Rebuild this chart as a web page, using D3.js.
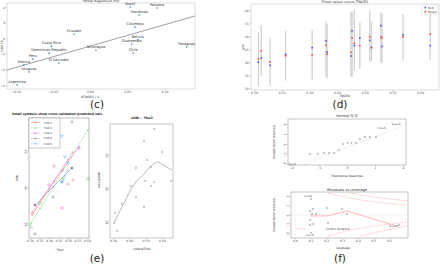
<!DOCTYPE html>
<html>
<head>
<meta charset="utf-8">
<script src="https://cdn.jsdelivr.net/npm/d3@7"></script>
<style>
body{margin:0;background:#fff}
svg{display:block}
text{font-family:"DejaVu Sans",sans-serif}
</style>
</head>
<body>
<svg id="fig" width="440" height="265"></svg>
<script>
// (c) partial regression
const countries = ['Argentina','Uruguay','Mexico','Peru','El Salvador','Dominican Republic','Costa Rica','Ecuador','Nicaragua','Brazil','Panama','Honduras','Colombia','Bolivia','Guatemala','Chile','Paraguay']
const atindexResid = [-0.098,-0.082,-0.089,-0.077,-0.042,-0.055,-0.052,-0.0215,0.008,0.054,0.090,0.066,0.0605,0.064,0.056,0.058,0.130]
const giniResid = [-6.0,-4.33,-3.44,-2.67,-3.18,-1.95,-1.05,0.54,-1.51,4.0,3.87,2.97,1.44,-0.2,-0.75,-1.9,-1.13]
const prFit = {intercept: -1.02, slope: 27.4}
const cXTicks = [-0.10,-0.05,0,0.05,0.10]
const cYTicks = [-6,-4,-2,0,2,4]

// (d) fitted values vs TINDEX
const tindex = [0.308,0.313,0.329,0.357,0.405,0.430,0.432,0.475,0.477,0.481,0.491,0.509,0.512,0.529,0.531,0.569,0.618]
const olsFit = [39.9,41.5,38.7,43.0,45.5,48.1,43.8,42.3,52.0,46.3,49.2,48.3,45.6,54.0,46.0,50.5,46.3]
const mixedFit = [41.2,44.3,40.0,42.4,42.7,46.5,43.0,43.7,49.3,47.2,46.3,49.7,45.5,49.7,49.2,49.6,50.8]
const piLow = [30.8,34.6,30.8,32.8,33.3,34.1,33.8,34.4,34.2,36.5,37.3,40.1,40.4,39.5,39.8,40.5,40.8]
const piHigh = [51.3,54.2,49.1,51.9,52.3,55.5,54.6,59.4,59.2,60.0,55.4,59.6,55.4,59.0,58.8,58.5,58.7]
const dXTicks = [0.30,0.35,0.40,0.45,0.50,0.55,0.60]
const dYTicks = [30,35,40,45,50,55,60]

// (e) cross-validation folds
const foldNames = ['Fold 1','Fold 2','Fold 3','Fold 4','Fold 5']
const foldColors = ['#ff5a5a','#44cc44','#e048e0','#555555','#3fa0ff']
const foldIntercept = [28.76,27.05,30.41,34.12,21.6]
const foldSlope = [40.1,42.7,36.1,26.0,51.6]
const foldFrom = [0.311,0.300,0.311,0.326,0.468]
const foldTo = [0.526,0.605,0.558,0.521,0.500]
const cvFold = [3,4,4,4,2,2,3,1,4,2,0,0,1,3,2,3,1,0,1,3]
const cvTheil = [0.521,0.468,0.484,0.500,0.426,0.558,0.521,0.474,0.468,0.400,0.526,0.500,0.605,0.421,0.468,0.326,0.353,0.311,0.305,0.326]
const cvGini = [53.97,52.05,49.18,48.36,47.95,50.41,47.67,46.16,45.75,45.34,46.03,45.48,46.16,43.70,42.19,42.60,42.88,41.51,39.59,38.63]
const eXTicks = [0.30,0.35,0.40,0.45,0.50,0.55,0.60]
const eYTicks = [40,45,50]
const theil = [0.306,0.312,0.325,0.355,0.410,0.441,0.441,0.490,0.490,0.496,0.509,0.533,0.533,0.552,0.552,0.601,0.656]
const gini = [39.85,41.34,38.66,42.69,45.37,48.06,43.73,42.24,52.09,46.12,49.25,48.21,45.37,45.97,53.88,50.45,46.12]
const smoothTheil = [0.306,0.361,0.435,0.496,0.527,0.576,0.607,0.662]
const smoothGini = [39.85,42.54,45.82,47.31,48.21,48.96,48.51,47.76]
const e2XTicks = [0.30,0.40,0.50,0.60]

// (f) diagnostics
const theoQ = [-1.86,-1.32,-1.04,-0.82,-0.64,-0.46,-0.29,-0.14,0.02,0.16,0.32,0.46,0.64,0.82,1.04,1.35,1.88]
const stdResid = [-2.0,-1.0,-1.0,-0.9,-0.9,-0.9,-0.6,0.0,0.1,0.1,0.1,0.5,0.7,0.7,0.7,1.6,2.0]
const qqLine = {intercept: -0.36, slope: 1.08}
const leverage = [0.102,0.102,0.115,0.096,0.108,0.134,0.096,0.115,0.096,0.102,0.115,0.204,0.211,0.300,0.332,0.651,0.664]
const levResid = [2.0,1.68,0.63,0.42,0.105,0.105,-0.53,-0.95,-1.05,-1.89,-2.1,0.74,-0.84,0.63,0.105,-1.16,-1.05]
const levSmoothX = [0.096,0.204,0.332,0.651]
const levSmoothY = [-0.1,-0.1,0.42,-1.16]
const cookX = [[0.21,0.35,0.5,0.72],[0.35,0.5,0.62,0.72],[0.21,0.35,0.5,0.72],[0.42,0.55,0.64,0.72]]
const cookY = [[2.3,1.8,1.4,1.05],[2.3,1.9,1.65,1.5],[-2.2,-1.6,-1.2,-0.74],[-2.2,-1.7,-1.4,-1.16]]
const fXTicks = [-2,-1,0,1,2]
const fYTicks = [-2,-1,0,1,2]
const levTicks = [0,0.1,0.2,0.3,0.4,0.5,0.6]

const svg = d3.select('#fig')
const f2 = d3.format('.2f')

function box(g, x0, y0, x1, y1, col){
  g.append('rect').attr('x',x0).attr('y',y0).attr('width',x1-x0).attr('height',y1-y0)
    .attr('fill','none').attr('stroke',col).attr('stroke-width',0.5)
}
function styleAxis(a){
  a.attr('font-size',3.2).attr('font-family',null)
  a.select('.domain').remove()
  a.selectAll('line').attr('stroke','#888').attr('stroke-width',0.35)
  a.selectAll('text').attr('fill','#555')
  return a
}
function bottom(g, scale, ticks, y, fmt){
  return styleAxis(g.append('g').attr('transform',`translate(0,${y})`)
    .call(d3.axisBottom(scale).tickValues(ticks).tickSize(1.3).tickPadding(0.8).tickFormat(fmt)))
}
function left(g, scale, ticks, x, fmt, rot){
  const a = styleAxis(g.append('g').attr('transform',`translate(${x},0)`)
    .call(d3.axisLeft(scale).tickValues(ticks).tickSize(1.3).tickPadding(0.8).tickFormat(fmt)))
  if (rot) a.selectAll('text').attr('x',0).attr('dy',0).attr('text-anchor','middle').attr('transform','translate(-2.4,0) rotate(-90)')
  return a
}
function label(g, x, y, t, size, opts = {}){
  const el = g.append('text').attr('x',x).attr('y',y).text(t).attr('font-size',size)
    .attr('text-anchor','middle').attr('fill',opts.fill || '#333')
  if (opts.rot) el.attr('transform',`rotate(-90,${x},${y})`)
  if (opts.bold) el.attr('font-weight','bold')
  return el
}
function panelTag(x, y, t){
  svg.append('text').attr('x',x).attr('y',y).text(t).attr('font-size',10.5)
    .attr('font-family','"Liberation Serif",serif').attr('text-anchor','middle').attr('fill','#222')
}

// ---- (c)
{
  const g = svg.append('g')
  const x = d3.scaleLinear().domain([-0.1116,0.1411]).range([7,195])
  const y = d3.scaleLinear().domain([-6.51,4.51]).range([89,3])
  box(g,7,3,195,89,'#bbb')
  bottom(g,x,cXTicks,89,f2)
  left(g,y,cYTicks,7,d3.format('d'))
  const ends = x.domain()
  g.append('line').attr('x1',x(ends[0])).attr('y1',y(prFit.intercept+prFit.slope*ends[0]))
    .attr('x2',x(ends[1])).attr('y2',y(prFit.intercept+prFit.slope*ends[1]))
    .attr('stroke','#777').attr('stroke-width',0.7)
  countries.forEach((c,i)=>{
    g.append('circle').attr('cx',x(atindexResid[i])).attr('cy',y(giniResid[i])).attr('r',0.8).attr('fill','#2b7bd0')
    g.append('text').attr('x',x(atindexResid[i])).attr('y',y(giniResid[i])-2.1).text(c)
      .attr('font-size',3.6).attr('text-anchor','middle').attr('fill','#333')
  })
  label(g,101,2.3,'Partial Regression Plot',3.3)
  label(g,90,97.5,'ATINDEX | X',3)
  label(g,2.5,46,'GINI | X',3,{rot:true})
  panelTag(97,108,'(c)')
}

// ---- (d)
{
  const g = svg.append('g')
  const x = d3.scaleLinear().domain([0.2946,0.6339]).range([251,439])
  const y = d3.scaleLinear().domain([29.23,62.31]).range([90,4])
  box(g,251,4,439,90,'#bbb')
  bottom(g,x,dXTicks,90,f2)
  left(g,y,dYTicks,251,d3.format('d'))
  tindex.forEach((t,i)=>{
    g.append('line').attr('x1',x(t)).attr('x2',x(t)).attr('y1',y(piLow[i])).attr('y2',y(piHigh[i]))
      .attr('stroke','#cfcfcf').attr('stroke-width',1.2)
  })
  tindex.forEach((t,i)=>{
    g.append('rect').attr('x',x(t)-0.8).attr('y',y(olsFit[i])-0.8).attr('width',1.6).attr('height',1.6).attr('fill','#4a4aff')
    g.append('rect').attr('x',x(t)-0.8).attr('y',y(mixedFit[i])-0.8).attr('width',1.6).attr('height',1.6).attr('fill','#ff4646')
  })
  g.append('rect').attr('x',422).attr('y',5).attr('width',16).attr('height',9).attr('fill','#fff').attr('stroke','#ccc').attr('stroke-width',0.4)
  ;[['OLS','#4a4aff'],['Mixed','#ff4646']].forEach((d,i)=>{
    g.append('rect').attr('x',424.5).attr('y',6.8+i*4).attr('width',1.6).attr('height',1.6).attr('fill',d[1])
    g.append('text').attr('x',428).attr('y',8.5+i*4).text(d[0]).attr('font-size',2.8).attr('fill','#333')
  })
  label(g,345,2.8,'Fitted values versus TINDEX',3.3)
  label(g,345,97,'TINDEX',3)
  label(g,244,47,'gini',3,{rot:true})
  panelTag(340,108,'(d)')
}

// ---- (e) left
{
  const g = svg.append('g')
  const x = d3.scaleLinear().domain([0.2947,0.6105]).range([29,89])
  const y = d3.scaleLinear().domain([38.08,54.52]).range([238,118])
  box(g,29,118,89,238,'#777')
  bottom(g,x,eXTicks,238,f2)
  left(g,y,eYTicks,29,d3.format('d'),true)
  const shapes = [d3.symbolCircle,d3.symbolTriangle,d3.symbolSquare,d3.symbolCircle,d3.symbolTriangle]
  foldNames.forEach((f,k)=>{
    g.append('line').attr('x1',x(foldFrom[k])).attr('y1',y(foldIntercept[k]+foldSlope[k]*foldFrom[k]))
      .attr('x2',x(foldTo[k])).attr('y2',y(foldIntercept[k]+foldSlope[k]*foldTo[k]))
      .attr('stroke',foldColors[k]).attr('stroke-width',0.5).attr('stroke-dasharray',k===0?null:'1.5,0.8')
  })
  cvTheil.forEach((t,i)=>{
    const k = cvFold[i]
    const rot = k===4 ? 180 : 0
    g.append('path').attr('d',d3.symbol().type(shapes[k]).size(4)())
      .attr('transform',`translate(${x(t)},${y(cvGini[i])}) rotate(${rot})`)
      .attr('fill','none').attr('stroke',foldColors[k]).attr('stroke-width',0.4)
    g.append('path').attr('d',d3.symbol().type(shapes[k]).size(1)())
      .attr('transform',`translate(${x(t)},${y(foldIntercept[k]+foldSlope[k]*t)}) rotate(${rot})`)
      .attr('fill','none').attr('stroke',foldColors[k]).attr('stroke-width',0.3)
  })
  g.append('rect').attr('x',29).attr('y',118).attr('width',31).attr('height',30).attr('fill','#fff').attr('stroke','#777').attr('stroke-width',0.4)
  foldNames.forEach((f,k)=>{
    const yy = 122.5+k*5.3
    g.append('line').attr('x1',31).attr('x2',40).attr('y1',yy).attr('y2',yy)
      .attr('stroke',foldColors[k]).attr('stroke-width',0.4).attr('stroke-dasharray',k===0?null:'1.5,0.8')
    g.append('path').attr('d',d3.symbol().type(shapes[k]).size(1.5)()).attr('transform',`translate(35.5,${yy}) rotate(${k===4?180:0})`)
      .attr('fill','none').attr('stroke',foldColors[k]).attr('stroke-width',0.3)
    g.append('text').attr('x',44).attr('y',yy+1).text(f).attr('font-size',2.6).attr('fill','#333')
  })
  label(g,57,115,'Small symbols show cross-validation predicted vals',3.1,{bold:true,fill:'#111'})
  label(g,60,251,'Theil',3)
  label(g,18,178,'GINI',3,{rot:true})
}

// ---- (e) right
{
  const g = svg.append('g')
  const x = d3.scaleLinear().domain([0.2816,0.668]).range([110,173])
  const y = d3.scaleLinear().domain([37.61,54.63]).range([238,124])
  box(g,110,124,173,238,'#888')
  bottom(g,x,e2XTicks,238,f2)
  left(g,y,eYTicks,110,d3.format('d'),true)
  theil.forEach((t,i)=>{
    g.append('circle').attr('cx',x(t)).attr('cy',y(gini[i])).attr('r',0.75)
      .attr('fill','none').attr('stroke','#666').attr('stroke-width',0.35)
  })
  g.append('path').datum(smoothTheil.map((t,i)=>[t,smoothGini[i]]))
    .attr('d',d3.line().x(d=>x(d[0])).y(d=>y(d[1])).curve(d3.curveCatmullRom))
    .attr('fill','none').attr('stroke','#999').attr('stroke-width',0.7)
  label(g,142,119,'GINI ~ Theil',3.2,{bold:true,fill:'#111'})
  label(g,142,250,'index$Theil',3)
  label(g,100,180,'index$GINI',3,{rot:true})
  panelTag(97,262,'(e)')
}

// ---- (f) Normal Q-Q
{
  const g = svg.append('g')
  const x = d3.scaleLinear().domain([-2.107,2.107]).range([288,406])
  const y = d3.scaleLinear().domain([-2.1,2.5]).range([165,119])
  box(g,288,119,406,165,'#888')
  bottom(g,x,fXTicks,165,d3.format('d'))
  left(g,y,fYTicks,288,d3.format('d'),true)
  const ends = [-1.6,2.0]
  g.append('line').attr('x1',x(ends[0])).attr('y1',y(qqLine.intercept+qqLine.slope*ends[0]))
    .attr('x2',x(ends[1])).attr('y2',y(qqLine.intercept+qqLine.slope*ends[1]))
    .attr('stroke','#aaa').attr('stroke-width',0.4).attr('stroke-dasharray','0.6,0.8')
  theoQ.forEach((q,i)=>{
    g.append('circle').attr('cx',x(q)).attr('cy',y(stdResid[i])).attr('r',0.75)
      .attr('fill','none').attr('stroke','#555').attr('stroke-width',0.35)
  })
  ;[[0,'Peru'],[15,'Chile'],[16,'Brazil']].forEach(([i,t])=>{
    g.append('text').attr('x',x(theoQ[i])-1.2).attr('y',y(stdResid[i])+0.8).text(t)
      .attr('font-size',2.4).attr('text-anchor','end').attr('fill','#555')
  })
  label(g,347,117,'Normal Q-Q',3.6)
  label(g,347,176.5,'Theoretical Quantiles',3)
  label(g,275,142,'Standardized residuals',3,{rot:true})
}

// ---- (f) Residuals vs Leverage
{
  const g = svg.append('g')
  const x = d3.scaleLinear().domain([-0.0255,0.721]).range([291,408])
  const y = d3.scaleLinear().domain([-2.42,2.42]).range([238,192])
  g.append('line').attr('x1',x(0)).attr('x2',x(0)).attr('y1',192).attr('y2',238).attr('stroke','#bbb').attr('stroke-width',0.35).attr('stroke-dasharray','0.6,0.8')
  g.append('line').attr('x1',291).attr('x2',408).attr('y1',y(0)).attr('y2',y(0)).attr('stroke','#bbb').attr('stroke-width',0.35).attr('stroke-dasharray','0.6,0.8')
  box(g,291,192,408,238,'#888')
  bottom(g,x,levTicks,238,d3.format('.1f'))
  left(g,y,fYTicks,291,d3.format('d'),true)
  const cl = g.append('g').attr('clip-path','url(#rvl)')
  svg.append('clipPath').attr('id','rvl').append('rect').attr('x',291).attr('y',192).attr('width',117).attr('height',46)
  const line = d3.line().x(d=>x(d[0])).y(d=>y(d[1])).curve(d3.curveMonotoneX)
  cookX.forEach((cx,k)=>{
    cl.append('path').datum(cx.map((v,i)=>[v,cookY[k][i]])).attr('d',line)
      .attr('fill','none').attr('stroke','#ff7a7a').attr('stroke-width',0.45).attr('stroke-dasharray','1.6,1')
  })
  g.append('path').datum(levSmoothX.map((v,i)=>[v,levSmoothY[i]])).attr('d',d3.line().x(d=>x(d[0])).y(d=>y(d[1])))
    .attr('fill','none').attr('stroke','#ff6b6b').attr('stroke-width',0.5)
  leverage.forEach((h,i)=>{
    g.append('circle').attr('cx',x(h)).attr('cy',y(levResid[i])).attr('r',0.75)
      .attr('fill','none').attr('stroke','#555').attr('stroke-width',0.35)
  })
  ;[[0,'Chile'],[10,'Peru'],[15,'Brazil']].forEach(([i,t])=>{
    g.append('text').attr('x',x(leverage[i])-1.2).attr('y',y(levResid[i])+0.8).text(t)
      .attr('font-size',2.4).attr('text-anchor','end').attr('fill','#555')
  })
  g.append('line').attr('x1',296).attr('x2',306).attr('y1',229).attr('y2',229).attr('stroke','#ff7a7a').attr('stroke-width',0.45).attr('stroke-dasharray','1.6,1')
  g.append('text').attr('x',326).attr('y',230).text("Cook's distance").attr('font-size',3).attr('fill','#444')
  label(g,347,190.5,'Residuals vs Leverage',3.6)
  label(g,343,248.5,'Leverage',3)
  label(g,275,215,'Standardized residuals',3,{rot:true})
  panelTag(340,262,'(f)')
}
</script>
</body>
</html>
